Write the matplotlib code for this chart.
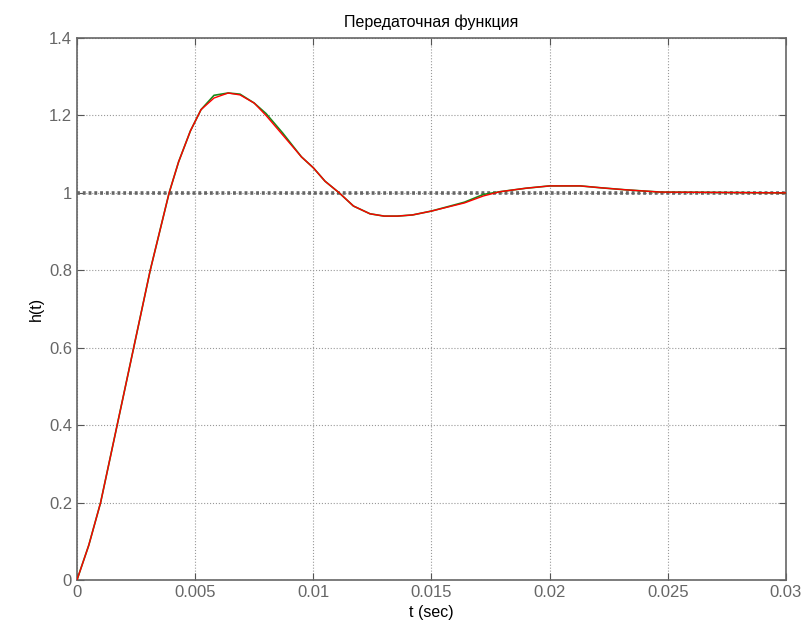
import matplotlib
matplotlib.use("Agg")
import matplotlib.pyplot as plt

plt.rcParams['font.family'] = ['Liberation Sans', 'DejaVu Sans']

# step response samples
t = [0, 0.0005, 0.001, 0.0017, 0.0024, 0.0031, 0.0039, 0.0043, 0.0048, 0.00525,
     0.0058, 0.0064, 0.0069, 0.0075, 0.008, 0.0087, 0.0095, 0.01, 0.0105, 0.0111,
     0.0117, 0.0124, 0.013, 0.01356, 0.0142, 0.015, 0.0164, 0.0172, 0.0179, 0.019,
     0.02, 0.0213, 0.0222, 0.0232, 0.0247, 0.03]
h_red = [0, 0.09, 0.20, 0.40, 0.60, 0.80, 1.00, 1.08, 1.16, 1.215,
         1.245, 1.258, 1.253, 1.232, 1.20, 1.15, 1.093, 1.065, 1.03, 1.0,
         0.966, 0.946, 0.94, 0.94, 0.943, 0.953, 0.974, 0.992, 1.003, 1.012,
         1.018, 1.018, 1.013, 1.008, 1.002, 1.0]
h_green = [0, 0.09, 0.20, 0.40, 0.60, 0.80, 1.00, 1.08, 1.16, 1.215,
           1.252, 1.258, 1.255, 1.232, 1.205, 1.155, 1.093, 1.065, 1.03, 1.0,
           0.966, 0.946, 0.94, 0.94, 0.943, 0.953, 0.976, 0.996, 1.003, 1.012,
           1.018, 1.018, 1.013, 1.008, 1.002, 1.0]
steady = 1.0

fig = plt.figure(figsize=(8.06, 6.39), dpi=100)
ax = fig.add_axes([0.0955, 0.0923, 0.8795, 0.8482])

ax.axhline(steady, color='#666666', lw=2.6, ls=(0, (0.8, 0.8)), zorder=2)
ax.plot(t, h_green, color='#1a8a1a', lw=1.2, zorder=3)
ax.plot(t, h_red, color='red', lw=1.0, zorder=4)

ax.set_xlim(0, 0.03)
ax.set_ylim(0, 1.4)
ax.set_xticks([0, 0.005, 0.01, 0.015, 0.02, 0.025, 0.03])
ax.set_xticklabels(['0', '0.005', '0.01', '0.015', '0.02', '0.025', '0.03'])
ax.set_yticks([0, 0.2, 0.4, 0.6, 0.8, 1, 1.2, 1.4])
ax.set_yticklabels(['0', '0.2', '0.4', '0.6', '0.8', '1', '1.2', '1.4'])

ax.grid(True, color='#999999', ls=':', lw=0.8)
ax.tick_params(direction='in', top=True, right=True, length=5,
               colors='#555555', labelsize=12, labelcolor='#666666')
for s in ax.spines.values():
    s.set_color('#666666')
    s.set_linewidth(1.2)

ax.set_title('Передаточная функция', fontsize=11.5, pad=8)
ax.set_xlabel('t (sec)', fontsize=11.5)
ax.set_ylabel('h(t)', fontsize=11.5)

fig.savefig('out.png', dpi=100)
